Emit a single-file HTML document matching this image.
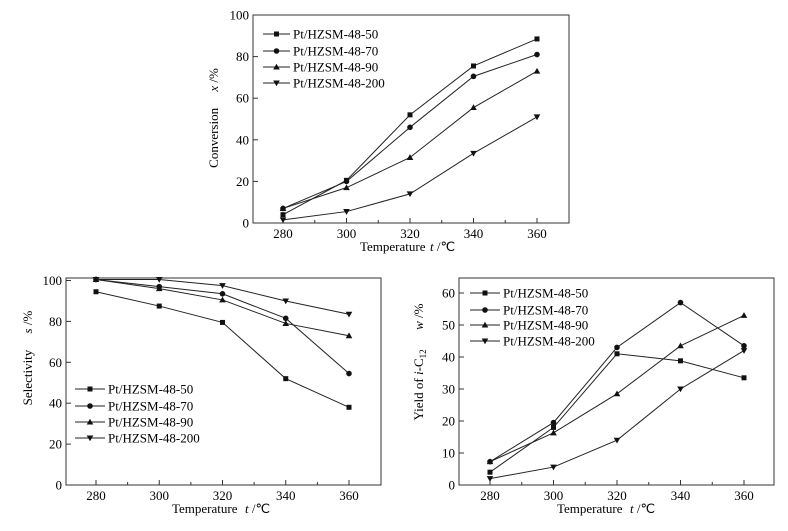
<!DOCTYPE html>
<html><head><meta charset="utf-8"><style>
html,body{margin:0;padding:0;background:#fff;}
svg, svg text{font-family:"Liberation Serif","Times New Roman",serif;}
</style></head><body>
<svg id="s" width="788" height="526" xmlns="http://www.w3.org/2000/svg" font-family="Liberation Serif, serif"></svg>
<script>
const S=document.getElementById('s');let h='';
const F='font-family="Liberation Serif, serif"';
function chart(c){
 const {L,R,T,B,x280,x360,ymin,ymax,y0px,yTopPx,yticks,data,leg,ylab,xlab}=c;
 const sx=v=>x280+(v-280)*(x360-x280)/80;
 const sy=v=>y0px-(v-ymin)*(y0px-yTopPx)/(ymax-ymin);
 h+=`<rect x="${L}" y="${T}" width="${R-L}" height="${B-T}" fill="none" stroke="#333" stroke-width="1"/>`;
 for(let v=280;v<=360;v+=20){const x=sx(v);h+=`<line x1="${x}" y1="${B}" x2="${x}" y2="${B-5}" stroke="#333"/><text ${F} x="${x}" y="${B+15}" font-size="13" text-anchor="middle">${v}</text>`;}
 for(let v=290;v<=350;v+=20){const x=sx(v);h+=`<line x1="${x}" y1="${B}" x2="${x}" y2="${B-3}" stroke="#333"/>`;}
 yticks.forEach(v=>{const y=sy(v);h+=`<line x1="${L}" y1="${y}" x2="${L+5}" y2="${y}" stroke="#333"/><text ${F} x="${L-4}" y="${y+4.5}" font-size="13" text-anchor="end">${v}</text>`;});
 const xs=[280,300,320,340,360];
 data.forEach((d,i)=>{
  h+=`<polyline fill="none" stroke="#222" stroke-width="1" points="${d.map((v,j)=>sx(xs[j])+','+sy(v)).join(' ')}"/>`;
  d.forEach((v,j)=>{h+=mk(i,sx(xs[j]),sy(v));});
  const ly=leg.y[i];
  h+=`<line x1="${leg.x1}" y1="${ly}" x2="${leg.x2}" y2="${ly}" stroke="#222"/>`+mk(i,(leg.x1+leg.x2)/2,ly);
  h+=`<text ${F} x="${leg.x2+3}" y="${ly+4.5}" font-size="13">${['Pt/HZSM-48-50','Pt/HZSM-48-70','Pt/HZSM-48-90','Pt/HZSM-48-200'][i]}</text>`;
 });
 h+=`<text ${F} transform="translate(${ylab.x},${ylab.y}) rotate(-90)" font-size="13" text-anchor="middle">${ylab.t}</text>`;
 h+=`<text ${F} x="${xlab.x}" y="${xlab.y}" font-size="13">Temperature</text><text ${F} x="${xlab.tx}" y="${xlab.y}" font-size="13"><tspan font-style="italic">t</tspan> /℃</text>`;
}
function mk(i,x,y){
 if(i==0)return `<rect x="${x-2.5}" y="${y-2.5}" width="5" height="5" fill="#111"/>`;
 if(i==1)return `<circle cx="${x}" cy="${y}" r="2.8" fill="#111"/>`;
 if(i==2)return `<polygon points="${x},${y-3.3} ${x-3.3},${y+2.5} ${x+3.3},${y+2.5}" fill="#111"/>`;
 return `<polygon points="${x},${y+3.3} ${x-3.3},${y-2.5} ${x+3.3},${y-2.5}" fill="#111"/>`;
}
chart({L:253,R:569,T:15,B:223,x280:283,x360:537,ymin:0,ymax:100,y0px:223,yTopPx:15,yticks:[0,20,40,60,80,100],
 data:[[4,20.5,52,75.5,88.5],[7,20,46,70.5,81],[7,17,31.5,55.5,73],[1.5,5.5,14,33.5,51]],
 leg:{x1:263,x2:290,y:[34,51,67,83]},
 ylab:{x:218,y:118,t:'Conversion \u00a0\u00a0\u00a0\u00a0<tspan font-style="italic">x</tspan> /%'},
 xlab:{x:360,tx:430,y:251}});
chart({L:66,R:381,T:278,B:485,x280:96,x360:349,ymin:0,ymax:100,y0px:485,yTopPx:280.5,yticks:[0,20,40,60,80,100],
 data:[[94.5,87.5,79.5,52,38],[100.5,97,93.5,81.5,54.5],[100.5,96,90.5,79,73],[100.5,100.5,97.5,90,83.5]],
 leg:{x1:75,x2:105,y:[389,406,422,438]},
 ylab:{x:32,y:358,t:'Selectivity \u00a0\u00a0\u00a0\u00a0<tspan font-style="italic">s</tspan> /%'},
 xlab:{x:172,tx:245,y:513}});
chart({L:459,R:774,T:278,B:485,x280:490,x360:744,ymin:0,ymax:60,y0px:485,yTopPx:293,yticks:[0,10,20,30,40,50,60],
 data:[[4,18,41,38.8,33.5],[7.3,19.5,43,57,43.5],[7.3,16.3,28.5,43.5,53],[2,5.6,14,30,42]],
 leg:{x1:470,x2:500,y:[293,310,325,341]},
 ylab:{x:423,y:362,t:'Yield of <tspan font-style="italic">i</tspan>-C<tspan font-size="9" dy="3">12</tspan><tspan dy="-3"> \u00a0\u00a0\u00a0\u00a0\u00a0</tspan><tspan font-style="italic">w</tspan> /%'},
 xlab:{x:557,tx:630,y:513}});
S.innerHTML=h;
</script>
</body></html>
